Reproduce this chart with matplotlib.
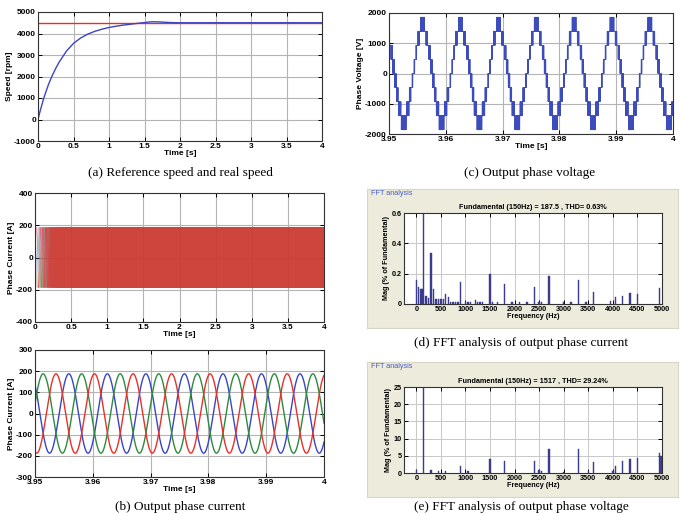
import numpy as np
from matplotlib import pyplot as plt

# speed
speed_t = [0, 0.025, 0.05, 0.075, 0.1, 0.15, 0.2, 0.25, 0.3, 0.4, 0.5, 0.6, 0.7, 0.8,
           0.9, 1.0, 1.1, 1.2, 1.3, 1.4, 1.5, 1.6, 1.7, 1.8, 1.9, 2.0, 2.5, 3.0, 3.5, 4.0]
speed_rpm = [0, 330, 630, 920, 1180, 1650, 2040, 2380, 2680, 3180, 3540, 3790, 3970, 4100,
             4200, 4280, 4340, 4390, 4430, 4470, 4510, 4545, 4540, 4520, 4505, 4500,
             4500, 4500, 4500, 4500]
speed_ref = 4500

# phase current / voltage parameters (b), (c)
f_fund = 150.0             # Hz
i_amp = 187.5              # A
i_phase_deg = {'blue': 136, 'green': 256, 'red': 16}
v_cell = 465.0             # V per level (9-level phase voltage)
v_fund = 1517.0            # V fundamental
v_phase_deg = 140
f_carrier = 6000.0

# FFT spectra (% of fundamental)
fft_i_freq = [0, 50, 95, 120, 150, 200, 250, 300, 350, 400, 450, 500, 550, 600, 650, 700, 750,
              800, 850, 900, 1000, 1050, 1100, 1200, 1250, 1300, 1350, 1500, 1550, 1650, 1800,
              1950, 2100, 2250, 2400, 2500, 2550, 2700, 3000, 3150, 3300, 3450, 3600, 3950,
              4050, 4200, 4350, 4500, 4950]
fft_i_mag = [0.16, 0.11, 0.10, 0.10, 100, 0.055, 0.04, 0.335, 0.10, 0.035, 0.035, 0.035, 0.03,
             0.065, 0.045, 0.015, 0.015, 0.015, 0.015, 0.145, 0.015, 0.01, 0.01, 0.025, 0.015,
             0.01, 0.01, 0.195, 0.01, 0.01, 0.135, 0.01, 0.01, 0.01, 0.115, 0.015, 0.015, 0.185,
             0.01, 0.01, 0.155, 0.01, 0.08, 0.02, 0.045, 0.05, 0.07, 0.065, 0.105]
fft_v_freq = [0, 150, 300, 450, 600, 900, 1050, 1500, 1800, 2400, 2500, 2550, 2700, 3000,
              3300, 3500, 3600, 4000, 4050, 4200, 4350, 4500, 4950, 4980]
fft_v_mag = [0.8, 100, 1.0, 0.5, 0.6, 1.9, 0.5, 4.2, 3.5, 3.4, 0.8, 0.7, 7.0, 0.4, 7.0, 0.5,
             3.3, 0.6, 2.0, 3.5, 4.2, 4.3, 5.9, 5.0]

BLUE = '#3a45c4'
GREEN = '#2e8a3e'
RED = '#e8302a'
W, H = 682, 514
FS = 6
FS_FFT = 5.2

plt.rcParams['font.family'] = 'Liberation Sans'
plt.rcParams['axes.unicode_minus'] = False
fig = plt.figure(figsize=(W / 100, H / 100), dpi=100)


def box(x0, y0, x1, y1):
    return [x0 / W, 1 - y1 / H, (x1 - x0) / W, (y1 - y0) / H]


def style(ax, xlabel, ylabel, fs=FS):
    ax.grid(True, color='#b4b4b4', linewidth=0.8, linestyle='-')
    ax.set_axisbelow(True)
    ax.tick_params(direction='in', length=3, width=0.7, top=True, right=True,
                   labelsize=fs, pad=1.5)
    for lab in ax.get_xticklabels() + ax.get_yticklabels():
        lab.set_fontweight('bold')
    for s in ax.spines.values():
        s.set_linewidth(0.8)
        s.set_color('#333333')
    ax.set_xlabel(xlabel, fontsize=fs, fontweight='bold', labelpad=0)
    ax.set_ylabel(ylabel, fontsize=fs, fontweight='bold', labelpad=1)


def caption(x, y, s):
    fig.text(x / W, 1 - y / H, s, family='Liberation Serif', fontsize=9.5,
             ha='center', va='center')


time_ticks = ['0', '0.5', '1', '1.5', '2', '2.5', '3', '3.5', '4']
zoom_ticks = ['3.95', '3.96', '3.97', '3.98', '3.99', '4']

# (a) speed
ax = fig.add_axes(box(38, 12, 322, 141))
ax.plot([0, 4], [speed_ref, speed_ref], color=RED, lw=1)
ax.plot(speed_t, speed_rpm, color=BLUE, lw=1)
ax.set_xlim(0, 4)
ax.set_ylim(-1000, 5000)
ax.set_xticks(np.arange(0, 4.01, 0.5))
ax.set_xticklabels(time_ticks)
style(ax, 'Time [s]', 'Speed [rpm]')
caption(180, 173, '(a) Reference speed and real speed')

# (c) phase voltage
tv = np.linspace(3.95, 4.0, 60001)
ref = v_fund / v_cell * np.cos(2 * np.pi * f_fund * tv - np.radians(v_phase_deg))
carrier = np.abs(((tv * f_carrier) % 1.0) * 2 - 1)
lvl = np.floor(ref) + ((ref - np.floor(ref)) > carrier)
ax = fig.add_axes(box(389, 13, 673, 134))
ax.plot(tv, lvl * v_cell, color='#3d4cbc', lw=0.6)
ax.set_xlim(3.95, 4.0)
ax.set_ylim(-2000, 2000)
ax.set_xticks([3.95, 3.96, 3.97, 3.98, 3.99, 4.0])
ax.set_xticklabels(zoom_ticks)
ax.set_yticks([-2000, -1000, 0, 1000, 2000])
style(ax, 'Time [s]', 'Phase Voltage [V]')
caption(530, 173, '(c) Output phase voltage')

# (b) upper: phase currents over 0-4 s
tt = np.linspace(0, 4, 240001)
f_t = f_fund * np.interp(tt, speed_t, speed_rpm) / speed_ref
theta = 2 * np.pi * np.cumsum(f_t) * (tt[1] - tt[0])
ax = fig.add_axes(box(35, 193, 324, 322))
for name, col, al in [('blue', BLUE, 0.45), ('green', GREEN, 0.5), ('red', RED, 0.8)]:
    ax.plot(tt, i_amp * np.cos(theta - np.radians(i_phase_deg[name])), color=col, lw=0.35,
            alpha=al)
ax.set_xlim(0, 4)
ax.set_ylim(-400, 400)
ax.set_xticks(np.arange(0, 4.01, 0.5))
ax.set_xticklabels(time_ticks)
ax.set_yticks([-400, -200, 0, 200, 400])
style(ax, 'Time [s]', 'Phase Current [A]')

# (b) lower: zoom 3.95-4 s
tz = np.linspace(3.95, 4.0, 3001)
ax = fig.add_axes(box(35, 350, 324, 477))
for name, col in [('blue', BLUE), ('green', GREEN), ('red', RED)]:
    ax.plot(tz, i_amp * np.cos(2 * np.pi * f_fund * tz - np.radians(i_phase_deg[name])),
            color=col, lw=1)
ax.set_xlim(3.95, 4.0)
ax.set_ylim(-300, 300)
ax.set_xticks([3.95, 3.96, 3.97, 3.98, 3.99, 4.0])
ax.set_xticklabels(zoom_ticks)
ax.set_yticks(np.arange(-300, 301, 100))
style(ax, 'Time [s]', 'Phase Current [A]')
caption(180, 507, '(b) Output phase current')


# FFT panels
def fft_panel(panel, axbox, freq, mag, ymax, yticks, yticklabels, title):
    bg = fig.add_axes(box(*panel), zorder=0)
    bg.set_facecolor('#ecebdc')
    bg.set_xticks([])
    bg.set_yticks([])
    for s in bg.spines.values():
        s.set_color('#d8d6c6')
        s.set_linewidth(0.8)
    bg.text(0.012, 0.965, 'FFT analysis', transform=bg.transAxes, fontsize=FS_FFT,
            color='#4a5cc4', ha='left', va='center')
    a = fig.add_axes(box(*axbox), zorder=2)
    a.bar(freq, mag, width=28, color='#3c3c8c', edgecolor='#3c3c8c', linewidth=0.3)
    a.set_xlim(-250, 5000)
    a.set_ylim(0, ymax)
    a.set_xticks(np.arange(0, 5001, 500))
    a.set_yticks(yticks)
    a.set_yticklabels(yticklabels)
    a.set_title(title, fontsize=FS_FFT, fontweight='bold', pad=3)
    style(a, 'Frequency (Hz)', 'Mag (% of Fundamental)', fs=FS_FFT)
    a.grid(True, color='#c8c8c8', linewidth=0.7)


fft_panel((367, 189, 678, 328), (404, 213, 662, 304), fft_i_freq, fft_i_mag, 0.6,
          [0, 0.2, 0.4, 0.6], ['0', '0.2', '0.4', '0.6'],
          'Fundamental (150Hz) = 187.5 , THD= 0.63%')
caption(521, 343, '(d) FFT analysis of output phase current')

fft_panel((367, 362, 678, 497), (404, 387, 662, 473), fft_v_freq, fft_v_mag, 25,
          [0, 5, 10, 15, 20, 25], ['0', '5', '10', '15', '20', '25'],
          'Fundamental (150Hz) = 1517 , THD= 29.24%')
caption(521, 507, '(e) FFT analysis of output phase voltage')

fig.savefig('out.png', dpi=100)
